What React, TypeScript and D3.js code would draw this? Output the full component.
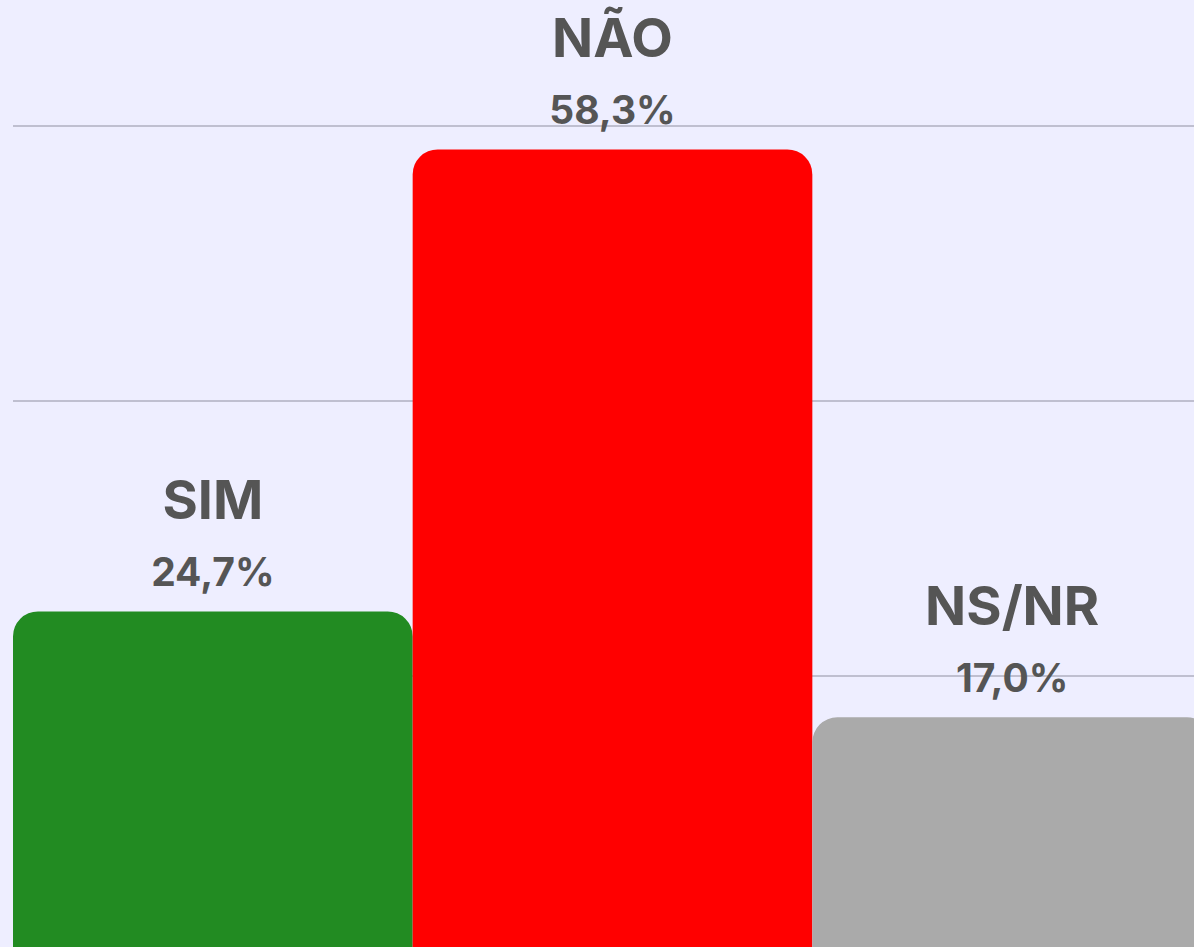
import React from "react";
import * as d3 from "d3";

const categories = ["SIM", "NÃO", "NS/NR"];
const values = [24.7, 58.3, 17.0];
const valueLabels = ["24,7%", "58,3%", "17,0%"];
const colors = ["#228B22", "#FF0000", "#AAAAAA"];
const gridTicks = [20, 40, 60];

const W = 1194;
const H = 947;

function roundedTopRect(x: number, y: number, w: number, h: number, r: number) {
  const rr = Math.min(r, w / 2, h);
  return `M${x},${y + h}V${y + rr}A${rr},${rr} 0 0 1 ${x + rr},${y}H${x + w - rr}A${rr},${rr} 0 0 1 ${x + w},${y + rr}V${y + h}Z`;
}

export default function App() {
  const x = d3.scaleBand<string>().domain(categories).range([13, 1212]).padding(0);
  const y = d3.scaleLinear().domain([0, 60]).range([951, 126]);
  const font = "Inter, 'Noto Sans', sans-serif";
  return (
    <svg
      width={W}
      height={H}
      style={{ position: "absolute", left: 0, top: 0, display: "block" }}
    >
      <rect x={0} y={0} width={W} height={H} fill="#EEEEFF" />
      {gridTicks.map((t) => (
        <line key={t} x1={13} x2={W} y1={y(t)} y2={y(t)} stroke="#AFAFC0" strokeWidth={1.3} />
      ))}
      {categories.map((c, i) => {
        const bx = x(c)!;
        const bw = x.bandwidth();
        const top = y(values[i]);
        return (
          <path key={c} d={roundedTopRect(bx, top, bw, y(0) - top, 25)} fill={colors[i]} />
        );
      })}
      {categories.map((c, i) => {
        const cx = x(c)! + x.bandwidth() / 2;
        const top = y(values[i]);
        return (
          <g key={c} fill="#555555" fontFamily={font} fontWeight={700} textAnchor="middle">
            <text x={cx} y={top - 92} fontSize={54}>{c}</text>
            <text x={cx} y={top - 25} fontSize={39}>{valueLabels[i]}</text>
          </g>
        );
      })}
    </svg>
  );
}
